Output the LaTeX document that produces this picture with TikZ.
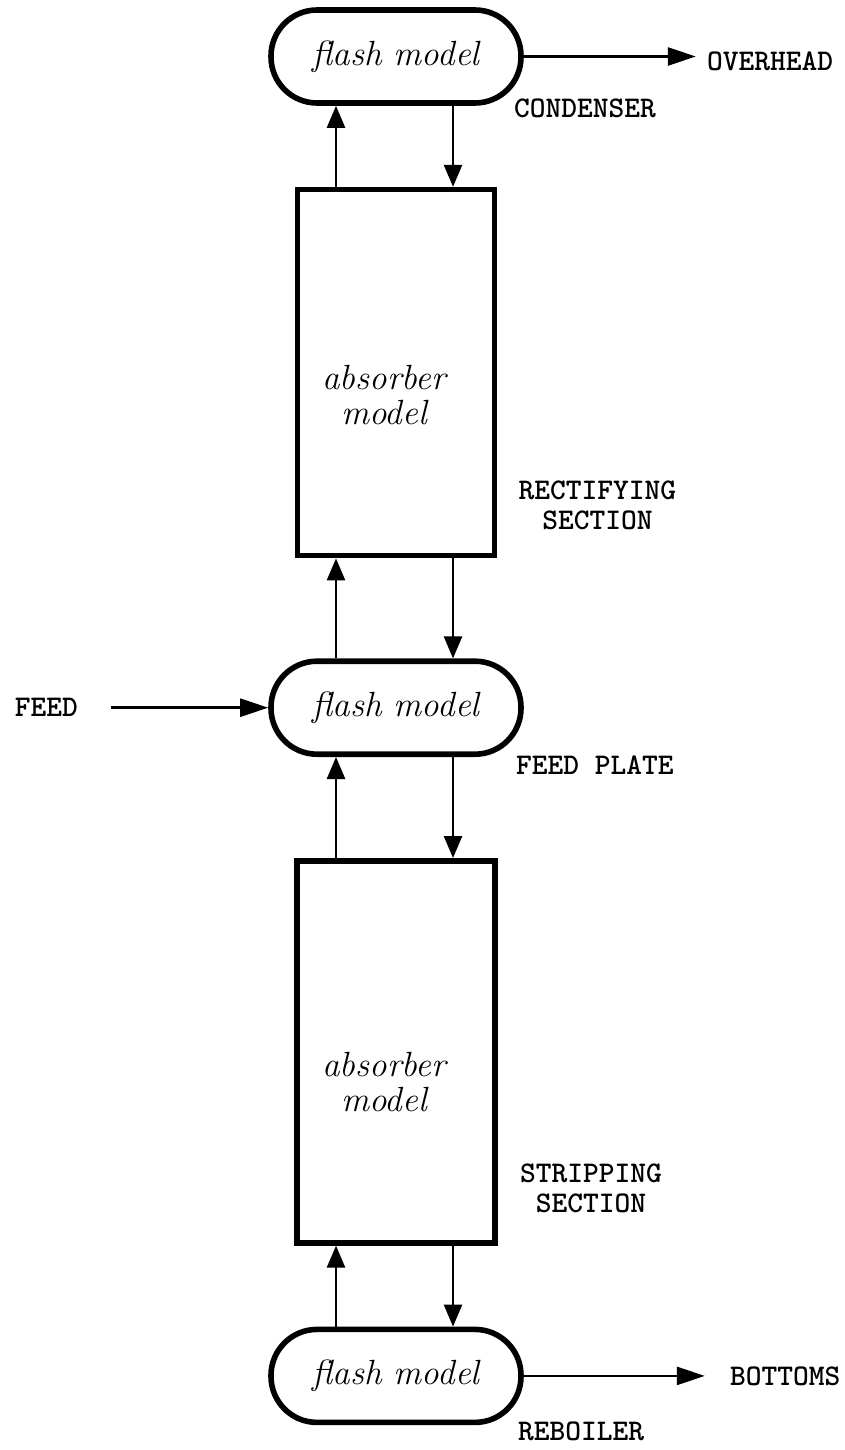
\documentclass[tikz,border=0pt]{standalone}
\usetikzlibrary{shapes,arrows.meta,positioning}

\begin{document}
\begin{tikzpicture}[x=0.5pt, y=-0.5pt, node distance=40pt,
    flash/.style={rectangle, draw, line width=2.8pt, rounded corners=23pt, minimum width=125pt, minimum height=46.5pt, font=\itshape\fontsize{17.5}{20}\selectfont},
    absorber/.style={rectangle, draw, line width=2.8pt, minimum width=98.5pt, minimum height=183pt},
    inside/.style={align=center, inner sep=0pt, font=\itshape\fontsize{17.5}{17.5}\selectfont},
    tag/.style={inner sep=2pt, align=center, font=\ttfamily\bfseries\fontsize{15}{15}\selectfont},
    arrow/.style={->, >={Triangle[length=11pt,width=9pt]}, line width=1.3pt},
    harrow/.style={->, >={Triangle[length=14pt,width=9pt]}, line width=1.3pt}
]
\useasboundingbox (0,0) rectangle (845,1450);

\node[flash] (fl1) at (396,56.5) {flash model};
\node[absorber, below=40.5pt of fl1] (ab1) {};
\node[inside] (t1) at ([xshift=-6pt,yshift=-11pt]ab1.center) {absorber\\model};

\node[flash, below=50pt of ab1] (fl2) {flash model};
\node[absorber, minimum width=99pt, minimum height=191pt, below=50.5pt of fl2] (ab2) {};
\node[inside] (t2) at ([xshift=-6pt,yshift=-15pt]ab2.center) {absorber\\model};

\node[flash, below=40.5pt of ab2] (fl3) {flash model};

% stream and stage labels
\node[tag, right=89.5pt of fl1, yshift=-2.5pt] (over) {OVERHEAD};
\node[tag, below right=-5.75pt and -7pt of fl1] (cond) {CONDENSER};
\node[tag, above right=12pt and 8.5pt of ab1.south east] (rect) {RECTIFYING\\SECTION};
\node[tag, left=93pt of fl2] (feed) {FEED};
\node[tag, below right=-2.75pt and -6pt of fl2] (plate) {FEED PLATE};
\node[tag, above right=14.25pt and 9pt of ab2.south east] (strip) {STRIPPING\\SECTION};
\node[tag, right=101pt of fl3] (bott) {BOTTOMS};
\node[tag, below right=-3.75pt and -5pt of fl3] (reb) {REBOILER};

% vapour up, liquid down
\draw[arrow] ([xshift=-30pt]ab1.north) -- ([xshift=-30pt]fl1.south);
\draw[arrow] ([xshift=28.5pt]fl1.south) -- ([xshift=28.5pt]ab1.north);
\draw[arrow] ([xshift=-30pt]fl2.north) -- ([xshift=-30pt]ab1.south);
\draw[arrow] ([xshift=28.5pt]ab1.south) -- ([xshift=28.5pt]fl2.north);
\draw[arrow] ([xshift=-30pt]ab2.north) -- ([xshift=-30pt]fl2.south);
\draw[arrow] ([xshift=28.5pt]fl2.south) -- ([xshift=28.5pt]ab2.north);
\draw[arrow] ([xshift=-30pt]fl3.north) -- ([xshift=-30pt]ab2.south);
\draw[arrow] ([xshift=28.5pt]ab2.south) -- ([xshift=28.5pt]fl3.north);

\draw[harrow, shorten >=3.5pt] (fl1.east) -- (fl1.east -| over.west);
\draw[harrow, shorten <=14.5pt] (feed.east) -- (fl2.west);
\draw[harrow, shorten >=10.5pt] (fl3.east) -- (bott.west);

\end{tikzpicture}
\end{document}
